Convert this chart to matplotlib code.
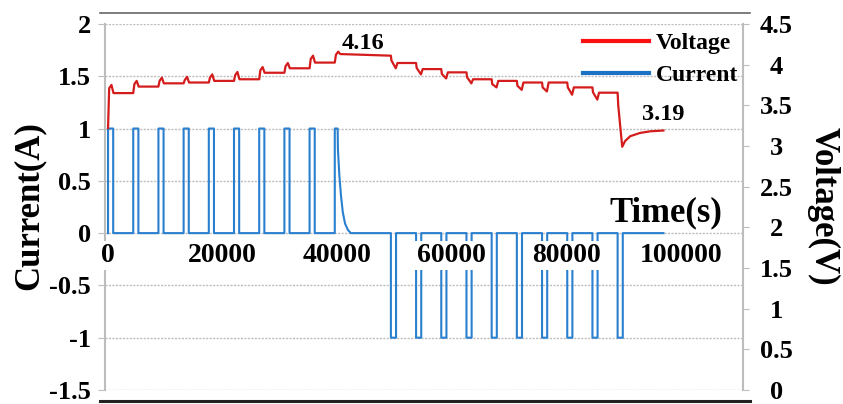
import numpy as np
import matplotlib.pyplot as plt
from matplotlib.lines import Line2D

plt.rcParams['font.family'] = ['Liberation Serif', 'DejaVu Serif']
plt.rcParams['font.weight'] = 'bold'
plt.rcParams['axes.labelweight'] = 'bold'

# --- data ---
charge_starts = [0, 4400, 8800, 13200, 17600, 22000, 26400, 30800, 35200, 39600]
discharge_starts = [49400, 53800, 58200, 62600, 67000, 71400, 75800, 80200, 84600, 89000]
pulse_width = 900
t_end = 97000

# constant-voltage tail after the last charge pulse
cv_t = [40100, 40150, 40400, 40700, 41000, 41400, 41900, 42400]
cv_i = [1.0, 0.8, 0.55, 0.35, 0.2, 0.09, 0.03, 0.0]

v_start = 3.22
charge_peak = [3.75, 3.80, 3.84, 3.85, 3.88, 3.91, 3.97, 4.02, 4.11, 4.16]
charge_rest = [3.65, 3.73, 3.77, 3.78, 3.80, 3.82, 3.90, 3.955, 4.025, 4.13]
v_before_discharge = 4.11
discharge_dip = [3.955, 3.88, 3.83, 3.77, 3.72, 3.69, 3.67, 3.63, 3.57, 2.99]
discharge_rest = [4.02, 3.945, 3.905, 3.82, 3.80, 3.78, 3.78, 3.72, 3.655]
recovery_t = [90300, 91200, 92900, 94700, 97000]
recovery_v = [3.06, 3.12, 3.16, 3.18, 3.19]

# --- build current step curve ---
ti, ii = [0], [0]
for s in charge_starts[:-1]:
    ti += [s, s, s + pulse_width, s + pulse_width]
    ii += [0, 1, 1, 0]
s = charge_starts[-1]
ti += [s, s] + cv_t
ii += [0, 1] + cv_i
for s in discharge_starts:
    ti += [s, s, s + pulse_width, s + pulse_width]
    ii += [0, -1, -1, 0]
ti.append(t_end)
ii.append(0)

# --- build voltage curve ---
tv, vv = [0], [v_start]
prev = v_start
for s, pk, rest in zip(charge_starts, charge_peak, charge_rest):
    tv += [s, s + 200, s + 600, s + 950]
    vv += [prev, pk - 0.04, pk, rest]
    prev = rest
tv.append(discharge_starts[0])
vv.append(v_before_discharge)
prev = v_before_discharge
for j, s in enumerate(discharge_starts):
    if j < len(discharge_rest):
        nxt = discharge_starts[j + 1]
        tv += [s + 100, s + 850, s + 1150, nxt]
        vv += [prev - 0.06, discharge_dip[j], discharge_rest[j], discharge_rest[j]]
        prev = discharge_rest[j]
    else:
        tv += [s + 100, s + 800]
        vv += [prev - 0.15, discharge_dip[j]]
tv += recovery_t
vv += recovery_v

fig = plt.figure(figsize=(8.43, 4.04), dpi=100)
ax = fig.add_axes([0.1246, 0.0347, 0.7568, 0.906])
ax2 = ax.twinx()

blue = '#2a7fcf'
red = '#d41c1c'
grey = '#bdbdbd'

ax.plot(ti, ii, color=blue, lw=1.5, zorder=2)
ax2.plot(tv, vv, color=red, lw=1.6)

ax.set_xlim(-524, 110900)
ax.set_ylim(-1.5, 2)
ax2.set_ylim(0, 4.5)

ax.set_yticks(np.arange(-1.5, 2.01, 0.5))
ax.set_yticklabels(['-1.5', '-1', '-0.5', '0', '0.5', '1', '1.5', '2'])
ax2.set_yticks(np.arange(0, 4.51, 0.5))
ax2.set_yticklabels(['0', '0.5', '1', '1.5', '2', '2.5', '3', '3.5', '4', '4.5'])
ax.set_xticks([0, 20000, 40000, 60000, 80000, 100000])
ax.set_xticklabels(['0', '20000', '40000', '60000', '80000', '100000'])

ax.grid(axis='y', color=grey, lw=1.0, ls=(0, (1.5, 1)))
ax.set_axisbelow(False)
ax.yaxis.set_zorder(0.5)
ax.xaxis.set_zorder(3)

ax.spines['bottom'].set_position(('data', 0))
ax.spines['bottom'].set_visible(False)
ax.spines['top'].set_visible(False)
ax.spines['right'].set_visible(False)
ax.spines['left'].set_color(grey)
ax.spines['left'].set_linewidth(1.5)
for sp in ['top', 'bottom', 'left']:
    ax2.spines[sp].set_visible(False)
ax2.spines['right'].set_color(grey)
ax2.spines['right'].set_linewidth(1.5)

ax.tick_params(axis='x', length=0, pad=7, labelsize=20)
ax.tick_params(axis='y', length=5, color=grey, pad=5, labelsize=19)
ax2.tick_params(axis='y', length=4, color=grey, pad=20, labelsize=19)
for lbl in ax.get_xticklabels():
    lbl.set_bbox(dict(facecolor='white', edgecolor='none', pad=1.5))
for lbl in ax2.get_yticklabels():
    lbl.set_horizontalalignment('center')

ax.set_xlabel('Time(s)', fontsize=25, fontweight='bold', ha='center', va='center')
ax.xaxis.set_label_coords(0.879, 0.484)
ax.set_ylabel('Current(A)', fontsize=25, fontweight='bold', va='center')
ax.yaxis.set_label_coords(-0.119, 0.503)
ax2.set_ylabel('Voltage(V)', fontsize=25, fontweight='bold', rotation=270, va='center')
ax2.yaxis.set_label_coords(1.125, 0.503)

ax2.text(44540, 4.26, '4.16', fontsize=17.5, ha='center', va='center')
ax2.text(96940, 3.39, '3.19', fontsize=17.5, ha='center', va='center')

handles = [Line2D([], [], color='#ff1010', lw=3),
           Line2D([], [], color='#1a72c4', lw=3)]
ax2.legend(handles, ['Voltage', 'Current'], loc='upper right',
           bbox_to_anchor=(1.0, 0.99), frameon=False, fontsize=17,
           handlelength=2.8, handletextpad=0.3, labelspacing=0.45,
           borderaxespad=0, borderpad=0.2)

# outer border lines of the original figure
fig.add_artist(Line2D([0.119, 0.89], [0.968, 0.968], color='#666666', lw=1.2))
fig.add_artist(Line2D([0.119, 0.89], [0.007, 0.007], color='#222222', lw=2.2))

fig.savefig('out.png', dpi=100)
